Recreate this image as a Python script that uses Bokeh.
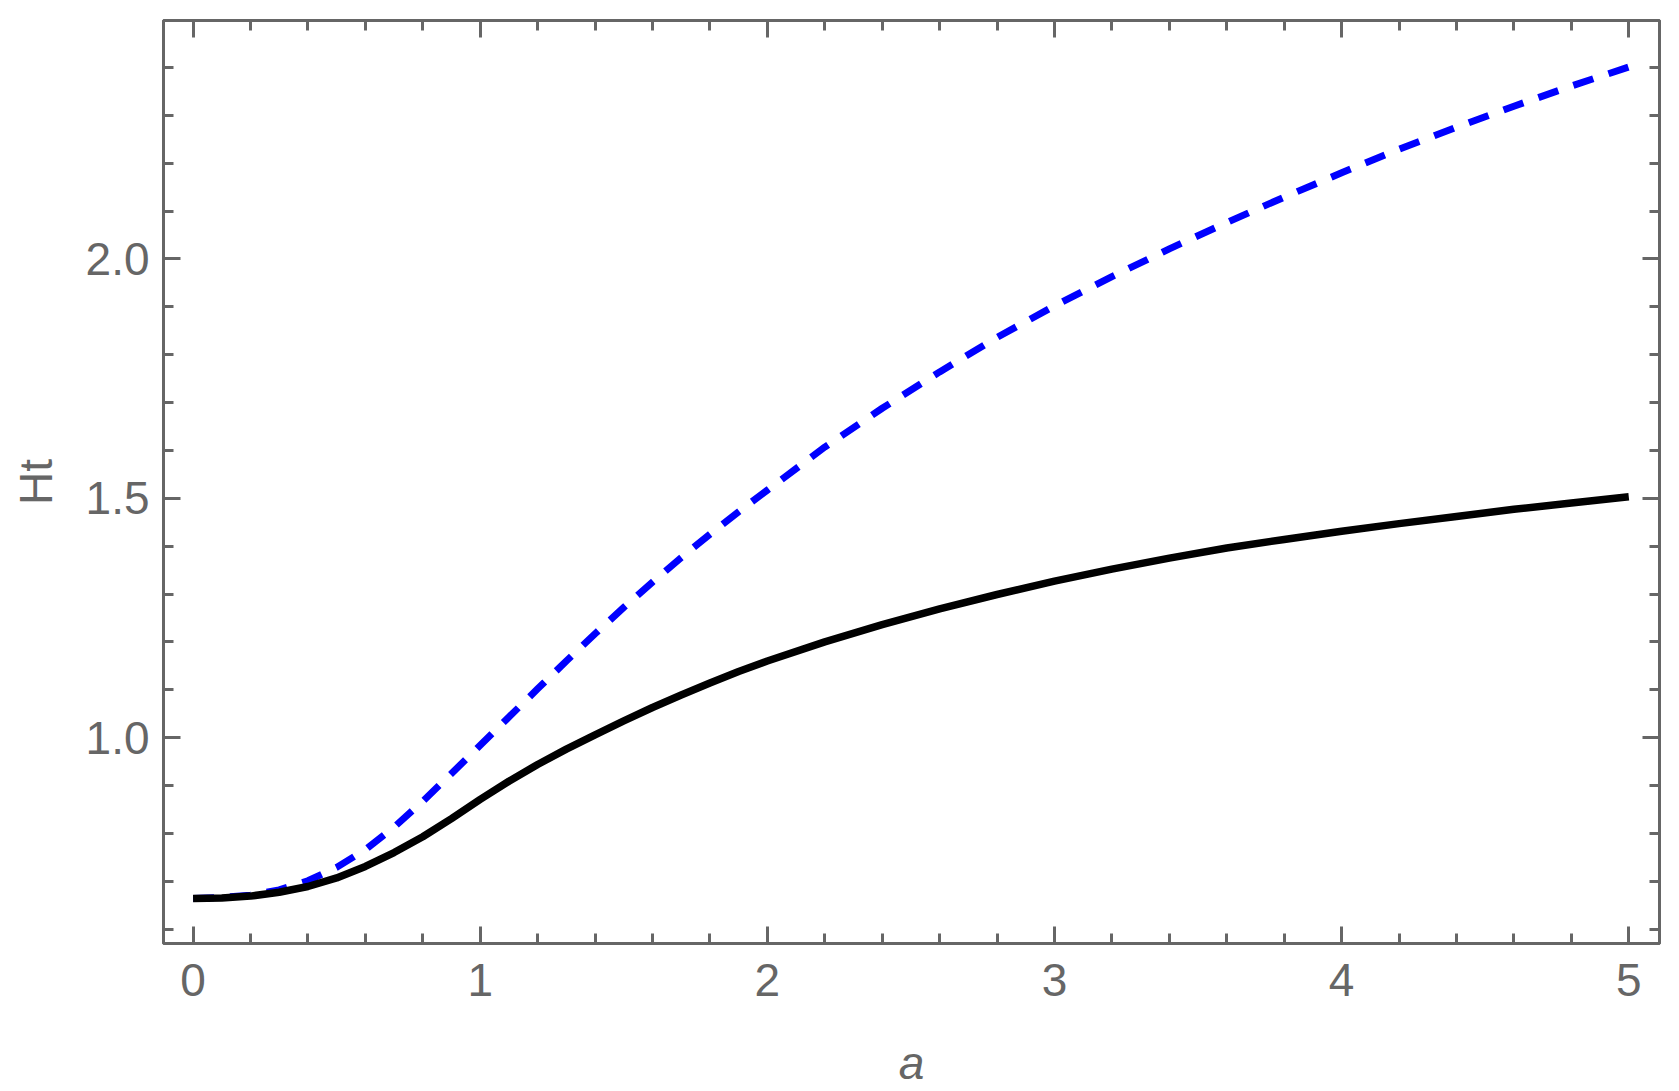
from bokeh.plotting import figure
from bokeh.models import Range1d, FixedTicker, LinearAxis, NumeralTickFormatter, CustomJSTickFormatter
from bokeh.embed import file_html
from bokeh.resources import INLINE

# ---- data ----
a_vals = [0.0, 0.1, 0.2, 0.3, 0.4, 0.5, 0.6, 0.7, 0.8, 0.9, 1.0, 1.1, 1.2, 1.3, 1.4, 1.5,
          1.6, 1.7, 1.8, 1.9, 2.0, 2.2, 2.4, 2.6, 2.8, 3.0, 3.2, 3.4, 3.6, 3.8, 4.0,
          4.2, 4.4, 4.6, 4.8, 5.0]
ht_solid = [0.664, 0.665, 0.669, 0.677, 0.689, 0.707, 0.731, 0.760, 0.793, 0.831, 0.871,
            0.909, 0.944, 0.976, 1.006, 1.035, 1.063, 1.089, 1.114, 1.138, 1.160,
            1.200, 1.236, 1.269, 1.299, 1.327, 1.352, 1.375, 1.396, 1.414, 1.431,
            1.447, 1.462, 1.477, 1.490, 1.503]
ht_dashed = [0.664, 0.666, 0.671, 0.682, 0.701, 0.729, 0.766, 0.813, 0.867, 0.925, 0.984,
             1.043, 1.102, 1.160, 1.217, 1.272, 1.325, 1.376, 1.425, 1.472, 1.517,
             1.607, 1.688, 1.764, 1.836, 1.902, 1.963, 2.021, 2.076, 2.129, 2.180,
             2.229, 2.275, 2.319, 2.361, 2.401]

x_major = [0, 1, 2, 3, 4, 5]
x_minor = [0.2, 0.4, 0.6, 0.8, 1.2, 1.4, 1.6, 1.8, 2.2, 2.4, 2.6, 2.8, 3.2, 3.4, 3.6, 3.8,
           4.2, 4.4, 4.6, 4.8]
y_major = [1.0, 1.5, 2.0]
y_minor = [0.6, 0.7, 0.8, 0.9, 1.1, 1.2, 1.3, 1.4, 1.6, 1.7, 1.8, 1.9, 2.1, 2.2, 2.3, 2.4]

x_label = "a"
y_label = "Ht"

GRAY = "#666666"
FONT = "Liberation Sans"
FS = "46px"

p = figure(width=1679, height=1091, output_backend="svg", toolbar_location=None,
           x_range=Range1d(-0.103, 5.107), y_range=Range1d(0.570, 2.498),
           x_axis_location=None, y_axis_location=None,
           min_border_left=163, min_border_right=20, min_border_top=20, min_border_bottom=148)
p.grid.visible = False
p.background_fill_color = "white"
p.border_fill_color = "white"
p.outline_line_color = GRAY
p.outline_line_width = 3


def style_axis(ax, labels=True):
    ax.axis_line_color = GRAY
    ax.axis_line_width = 3
    ax.major_tick_line_color = GRAY
    ax.major_tick_line_width = 3
    ax.minor_tick_line_color = GRAY
    ax.minor_tick_line_width = 3
    ax.major_tick_in = 17
    ax.major_tick_out = 0
    ax.minor_tick_in = 10
    ax.minor_tick_out = 0
    ax.major_label_text_font = FONT
    ax.major_label_text_font_size = FS
    ax.major_label_text_color = GRAY
    ax.axis_label_text_font = FONT
    ax.axis_label_text_font_size = FS
    ax.axis_label_text_color = GRAY
    if not labels:
        ax.formatter = CustomJSTickFormatter(code="return ''")
        ax.major_label_standoff = 0


xt = FixedTicker(ticks=x_major, minor_ticks=x_minor)
yt = FixedTicker(ticks=y_major, minor_ticks=y_minor)

bottom = LinearAxis(ticker=xt, formatter=NumeralTickFormatter(format="0"), axis_label=x_label)
style_axis(bottom)
bottom.major_label_standoff = 20
bottom.axis_label_standoff = 38
bottom.axis_label_text_font_style = "italic"
p.add_layout(bottom, "below")

left = LinearAxis(ticker=yt, formatter=NumeralTickFormatter(format="0.0"), axis_label=y_label)
style_axis(left)
left.major_label_standoff = 14
left.axis_label_standoff = 21
left.axis_label_text_font_style = "normal"
p.add_layout(left, "left")

top = LinearAxis(ticker=xt)
style_axis(top, labels=False)
p.add_layout(top, "above")

right = LinearAxis(ticker=yt)
style_axis(right, labels=False)
p.add_layout(right, "right")

p.line(a_vals, ht_dashed, line_color="#0000FF", line_width=7, line_dash="21 16")
p.line(a_vals, ht_solid, line_color="#000000", line_width=7.5)

open("out.html", "w").write(file_html(p, INLINE))
